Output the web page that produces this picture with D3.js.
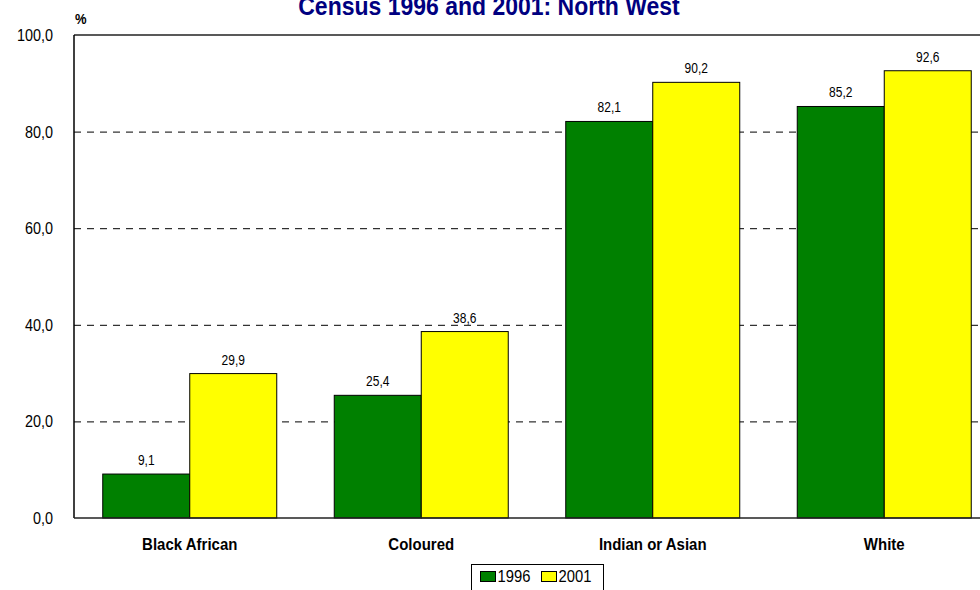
<!DOCTYPE html>
<html>
<head>
<meta charset="utf-8">
<script src="https://cdn.jsdelivr.net/npm/d3@7"></script>
<style>
  html, body { margin: 0; padding: 0; background: #fff; overflow: hidden; }
  svg { display: block; font-family: "Liberation Sans", Arial, sans-serif; }
</style>
</head>
<body>
<svg id="chart" width="980" height="590"></svg>
<script>
const categories = ["Black African", "Coloured", "Indian or Asian", "White"];
const seriesNames = ["1996", "2001"];
const values1996 = [9.1, 25.4, 82.1, 85.2];
const values2001 = [29.9, 38.6, 90.2, 92.6];
const yTicks = [0, 20, 40, 60, 80, 100];
const titleText = "Census 1996 and 2001: North West";
const colors = ["#008000", "#FFFF00"];

const series = [values1996, values2001];
const svg = d3.select("#chart");
const fmt = v => d3.format(".1f")(v).replace(".", ",");
const SY = 1.15;

const x0 = d3.scaleBand().domain(categories).range([74, 1000])
  .paddingInner(0.2484).paddingOuter(0.1242);
const x1 = d3.scaleBand().domain(seriesNames).range([0, x0.bandwidth()]);
const y = d3.scaleLinear().domain([0, 100]).range([518, 35]);

function txt(g, x, yy, s, size, opts = {}) {
  return g.append("text")
    .attr("transform", `translate(${x},${yy}) scale(1,${SY})`)
    .attr("text-anchor", opts.anchor || "middle")
    .attr("font-size", size)
    .attr("font-weight", opts.bold ? "bold" : "normal")
    .attr("fill", opts.fill || "#000")
    .text(s);
}

// gridlines
svg.append("g").selectAll("line").data(yTicks.filter(t => t > 0 && t < 100)).join("line")
  .attr("x1", 74).attr("x2", 1000)
  .attr("y1", d => y(d) + 0.5).attr("y2", d => y(d) + 0.5)
  .attr("stroke", "#000").attr("stroke-width", 1).attr("stroke-dasharray", "7,6");

// plot frame top and left
svg.append("line").attr("x1", 74).attr("x2", 1000).attr("y1", y(100)).attr("y2", y(100))
  .attr("stroke", "#222").attr("stroke-width", 1.5);

// bars
const groups = svg.append("g").selectAll("g").data(categories).join("g")
  .attr("transform", d => `translate(${x0(d)},0)`);
groups.each(function(cat, ci) {
  const g = d3.select(this);
  seriesNames.forEach((s, si) => {
    const v = series[si][ci];
    g.append("rect")
      .attr("x", x1(s)).attr("y", y(v))
      .attr("width", x1.bandwidth()).attr("height", y(0) - y(v))
      .attr("fill", colors[si]).attr("stroke", "#000").attr("stroke-width", 1);
    txt(g, x1(s) + x1.bandwidth() / 2, y(v) - 9, fmt(v), 12);
  });
});

// axes lines
svg.append("line").attr("x1", 74).attr("x2", 74).attr("y1", y(100)).attr("y2", y(0))
  .attr("stroke", "#000").attr("stroke-width", 1.5);
svg.append("line").attr("x1", 74).attr("x2", 1000).attr("y1", y(0)).attr("y2", y(0))
  .attr("stroke", "#222").attr("stroke-width", 1.5);

// y tick labels
const yl = svg.append("g");
yTicks.forEach(t => txt(yl, 53, y(t) + 6, fmt(t), 14.4, { anchor: "end" }));

// category labels
const xl = svg.append("g");
categories.forEach(c => txt(xl, x0(c) + x0.bandwidth() / 2, 550, c, 15, { bold: true }));

// % unit
txt(svg, 75, 24, "%", 13, { anchor: "start", bold: true });

// title
txt(svg, 489, 15, titleText, 23, { bold: true, fill: "#000080" });

// legend
const lg = svg.append("g");
lg.append("rect").attr("x", 471.5).attr("y", 564.5).attr("width", 132).attr("height", 40)
  .attr("fill", "#fff").attr("stroke", "#000").attr("stroke-width", 1);
const legX = [480, 541];
seriesNames.forEach((s, i) => {
  lg.append("rect").attr("x", legX[i] + 0.5).attr("y", 571.5).attr("width", 15).attr("height", 10)
    .attr("fill", colors[i]).attr("stroke", "#000").attr("stroke-width", 1);
  txt(lg, legX[i] + 17.5, 582, s, 14.8, { anchor: "start" });
});
</script>
</body>
</html>
